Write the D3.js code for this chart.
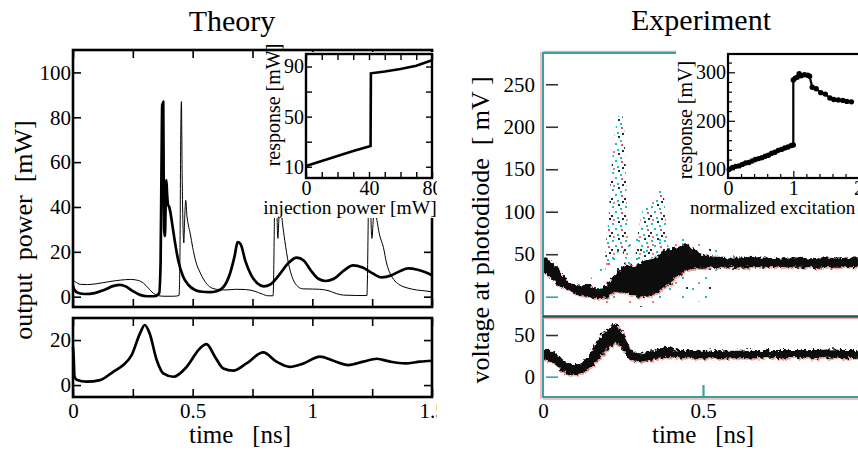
<!DOCTYPE html>
<html><head><meta charset="utf-8">
<script src="https://cdn.jsdelivr.net/npm/d3@7"></script>
<style>
body{margin:0;background:#fff}
svg{display:block}
text{font-family:"Liberation Serif","Times New Roman",serif;fill:#000}
</style>
</head><body>
<svg id="c" width="858" height="452"></svg>
<script>
// ---------------- DATA ----------------
// Theory, top panel: output power [mW] vs time [ns]
const thickCurve = [[0,5],[0.005,3.2],[0.02,1.8],[0.05,1.2],[0.09,1.6],[0.13,3],[0.17,4.8],[0.196,5.3],[0.22,4.6],[0.25,2.5],[0.28,0.8],[0.31,0.2],[0.34,0.2],[0.36,1.5],[0.366,15],[0.370,60],[0.373,86],[0.375,70],[0.377,87],[0.379,50],[0.381,30],[0.384,27],[0.387,40],[0.390,52],[0.393,46],[0.397,41],[0.402,40],[0.408,37],[0.415,32],[0.425,25],[0.44,16],[0.46,9],[0.48,5.5],[0.51,3],[0.54,2.2],[0.57,2],[0.60,2.4],[0.63,4.5],[0.655,10],[0.675,18],[0.688,24.3],[0.70,23.5],[0.72,16],[0.745,9.5],[0.77,6],[0.797,4.6],[0.825,5.5],[0.86,9.5],[0.9,15],[0.935,17.4],[0.965,16],[0.995,11.5],[1.025,8],[1.055,7],[1.09,8],[1.13,11.5],[1.17,14],[1.21,13],[1.25,10.5],[1.29,8.6],[1.33,9.5],[1.37,11.6],[1.40,12.6],[1.44,12],[1.47,11],[1.5,9.6]];
const thinCurve = [[0,7.3],[0.01,6.6],[0.03,5.5],[0.06,5.4],[0.1,5.8],[0.15,6.7],[0.2,7.4],[0.24,7.7],[0.27,7.3],[0.295,6],[0.315,3.8],[0.335,1.6],[0.355,0.5],[0.38,0.2],[0.42,0.2],[0.443,0.5],[0.447,20],[0.450,70],[0.453,87],[0.456,55],[0.460,30],[0.463,24],[0.467,36],[0.471,43],[0.476,36],[0.482,32],[0.49,28],[0.50,22],[0.515,15],[0.53,11],[0.55,7],[0.57,4.5],[0.6,3.3],[0.64,3],[0.68,3.3],[0.72,3.2],[0.76,2.4],[0.79,1.2],[0.815,0.4],[0.836,0.4],[0.841,30],[0.846,86],[0.851,45],[0.856,26],[0.862,38],[0.868,40],[0.875,33],[0.885,25],[0.9,15],[0.915,9],[0.935,5],[0.96,3.5],[1.0,3.4],[1.03,3.3],[1.07,2.6],[1.1,1.4],[1.13,0.7],[1.228,0.5],[1.233,30],[1.238,86],[1.243,45],[1.249,26],[1.256,36],[1.263,38],[1.27,34],[1.28,28],[1.297,22],[1.31,15],[1.325,10.4],[1.345,7],[1.366,5.2],[1.4,3.8],[1.436,3],[1.47,2.6],[1.5,2.2]];
// Theory, bottom panel
const lowerCurve = [[0,17],[0.003,12],[0.006,4],[0.015,2.4],[0.057,1.5],[0.113,2.2],[0.168,5.9],[0.21,8.9],[0.245,13.3],[0.28,23],[0.30,26.7],[0.32,23],[0.35,11],[0.377,5.2],[0.42,3.7],[0.475,8.1],[0.53,16.3],[0.558,18.2],[0.593,12.6],[0.628,7.4],[0.67,6.4],[0.725,9.6],[0.795,14.5],[0.85,10.4],[0.906,8.1],[0.962,9.6],[1.032,12.6],[1.088,10.8],[1.15,8.9],[1.213,10.4],[1.27,11.7],[1.325,10.4],[1.388,9.6],[1.45,10.4],[1.5,10.8]];
// Theory inset: response [mW] vs injection power [mW]
const theoryInset = [[0,10.5],[10,14.5],[20,18.5],[30,22.5],[41,26.6],[41.2,84.6],[50,86],[60,88],[70,90.6],[80,95]];
// Experiment inset: response [mV] vs normalized excitation
const expInset = [[0.02,100],[0.07,104],[0.12,106],[0.17,107],[0.22,110],[0.27,113],[0.32,114],[0.37,117],[0.42,120],[0.47,122],[0.52,124],[0.57,127],[0.62,129],[0.67,133],[0.72,135],[0.77,139],[0.82,141],[0.87,144],[0.92,146],[0.97,149],[1.0,150],[1.0,284],[1.03,288],[1.06,290],[1.09,297],[1.12,293],[1.17,295],[1.22,294],[1.25,292],[1.29,269],[1.35,266],[1.42,258],[1.49,255],[1.56,247],[1.62,244],[1.69,243],[1.76,242],[1.82,240],[1.89,239]];
// Experiment, top panel: dense trace band [t, low, high] (mV)
const expBandTop = [[0,28,46],[0.01,28,46],[0.022,23,42],[0.035,18,38],[0.045,14,35],[0.055,12,29],[0.065,10,24],[0.075,8,19],[0.085,6,16],[0.095,4,15],[0.105,2,14],[0.12,1,13],[0.135,0,14],[0.15,-1,12],[0.168,-2,10],[0.185,-1,11],[0.2,0,14],[0.21,2,19],[0.22,4,24],[0.23,5,28],[0.24,6,31],[0.25,5,36],[0.26,4,39],[0.27,3,37],[0.282,2,35],[0.293,1,38],[0.303,0,39],[0.314,1,42],[0.324,0,43],[0.34,2,45],[0.355,4,47],[0.37,8,51],[0.386,12,55],[0.40,17,56],[0.418,23,57],[0.433,28,60],[0.449,31,62],[0.46,32,59],[0.47,33,57],[0.485,34,52],[0.5,34,49],[0.52,35,48],[0.54,34,47],[0.564,34,47],[0.59,35,46],[0.62,34,46],[0.65,35,47],[0.68,34,46],[0.71,35,46],[0.74,34,45],[0.77,35,46],[0.8,34,46],[0.83,35,45],[0.86,34,46],[0.89,35,46],[0.92,34,45],[0.95,35,46],[1.0,35,46]];
// Experiment, top panel: sparse point clouds [t, low, high] (mV)
const expHalo = [[0.14,-4,18],[0.2,-8,42],[0.25,-10,62],[0.3,-12,72],[0.35,-10,76],[0.4,-2,74],[0.45,-4,70],[0.5,-6,64],[0.53,10,60],[0.57,28,55],[0.62,32,50]];
const expPlumeA = [[0.195,30,60],[0.205,35,95],[0.212,40,140],[0.222,45,185],[0.232,50,208],[0.243,55,216],[0.252,50,205],[0.258,45,160],[0.264,40,95],[0.272,35,60]];
const expPlumeB = [[0.29,40,60],[0.3,40,82],[0.31,42,100],[0.33,45,108],[0.345,45,116],[0.36,48,122],[0.37,50,130],[0.378,50,118],[0.385,48,90],[0.392,45,60]];
// Experiment, bottom panel band
const expBandBottom = [[0,20,34],[0.015,19,33],[0.032,16,30],[0.048,11,25],[0.064,6,20],[0.078,3,16],[0.09,2,14],[0.103,2,14],[0.116,4,16],[0.13,6,21],[0.147,10,28],[0.162,17,38],[0.178,24,48],[0.195,31,55],[0.21,36,60],[0.222,39,63],[0.232,40,62],[0.242,36,57],[0.252,31,50],[0.262,25,42],[0.272,20,34],[0.287,18,30],[0.303,18,28],[0.325,19,30],[0.345,20,32],[0.366,22,34],[0.386,24,36],[0.405,23,34],[0.428,22,32],[0.46,22,32],[0.5,22,31],[0.55,22,32],[0.6,22,31],[0.65,22,32],[0.7,23,32],[0.75,22,32],[0.8,23,32],[0.85,22,32],[0.9,23,33],[0.95,22,32],[1.0,23,32]];
// Tick values
const theoryTimeTicks = [0,0.25,0.5,0.75,1,1.25,1.5];
const theoryTimeLabels = [0,0.5,1,1.5];
const theoryPowerTicks = [0,20,40,60,80,100];
const theoryLowerTicks = [0,20];
const theoryInsetXTicks = [0,10,20,30,40,50,60,70,80];
const theoryInsetXLabels = [0,40,80];
const theoryInsetYTicks = [10,30,50,70,90];
const theoryInsetYLabels = [10,50,90];
const expVoltTicks = [0,50,100,150,200,250];
const expLowerTicks = [0,50];
const expTimeLabels = [0,0.5];
const expInsetYLabels = [100,200,300];
const expInsetXLabels = [0,1,2];

// ---------------- DRAW ----------------
const svg = d3.select('#c');
const defs = svg.append('defs');
const SERIF = '"Liberation Serif","Times New Roman",serif';
const TEAL = '#35a3a3', DTEAL = '#1b5656', PINK = '#f2a7a7';

defs.append('clipPath').attr('id','clipL').append('rect').attr('x',0).attr('y',0).attr('width',437).attr('height',452);
// dot patterns for scattered experimental samples
const pd = defs.append('pattern').attr('id','pDense').attr('width',13).attr('height',17).attr('patternUnits','userSpaceOnUse');
[[1,2,'#17c2c2'],[7,0,'#0f3838'],[4,7,'#17c2c2'],[10,8,'#d85a5a'],[0,11,'#1d2e2e'],[9,4,'#17c2c2'],[6,13,'#17c2c2'],[11,14,'#103030'],[2,15,'#e08080']].forEach(d=>pd.append('rect').attr('x',d[0]).attr('y',d[1]).attr('width',2).attr('height',2).attr('fill',d[2]));
const ps = defs.append('pattern').attr('id','pSparse').attr('width',23).attr('height',19).attr('patternUnits','userSpaceOnUse');
[[2,3,'#17c2c2'],[15,11,'#17c2c2'],[8,16,'#e08080'],[19,2,'#1d3a3a']].forEach(d=>ps.append('rect').attr('x',d[0]).attr('y',d[1]).attr('width',2).attr('height',2).attr('fill',d[2]));
const flt = defs.append('filter').attr('id','rough').attr('x','-5%').attr('y','-20%').attr('width','110%').attr('height','140%');
flt.append('feTurbulence').attr('type','fractalNoise').attr('baseFrequency',0.3).attr('numOctaves',3).attr('seed',4).attr('result','n');
flt.append('feDisplacementMap').attr('in','SourceGraphic').attr('in2','n').attr('scale',7).attr('xChannelSelector','R').attr('yChannelSelector','G');

function styleAxis(g, size, sw){
  g.select('.domain').remove();
  g.attr('font-family',SERIF).attr('font-size',size);
  g.selectAll('.tick line').attr('stroke-width',sw);
  g.selectAll('.tick text').attr('fill','#000');
}
function fmtIf(list){ return d => list.includes(d) ? d3.format('')(d) : ''; }

// ===== Theory =====
const L = svg.append('g').attr('clip-path','url(#clipL)');
const xT = d3.scaleLinear([0,1.5],[73,432]);
const yT1 = d3.scaleLinear([-4.6,110],[307,50]);
const yT2 = d3.scaleLinear([-5.3,29.8],[397,318]);

function theoryPanel(y, yTicks, top, bottom, labelsX){
  L.append('g').attr('transform',`translate(0,${bottom})`)
    .call(d3.axisBottom(xT).tickValues(theoryTimeTicks).tickSize(-8).tickPadding(6).tickFormat(labelsX?fmtIf(theoryTimeLabels):()=>''))
    .call(g=>styleAxis(g,21,1.6));
  L.append('g').attr('transform',`translate(0,${top})`)
    .call(d3.axisTop(xT).tickValues(theoryTimeTicks).tickSize(-8).tickFormat(()=>''))
    .call(g=>styleAxis(g,21,1.6));
  L.append('g').attr('transform',`translate(${xT(0)},0)`)
    .call(d3.axisLeft(y).tickValues(yTicks).tickSize(-8).tickPadding(2).tickFormat(d3.format('')))
    .call(g=>styleAxis(g,21,1.6));
  L.append('g').attr('transform',`translate(${xT(1.5)},0)`)
    .call(d3.axisRight(y).tickValues(yTicks).tickSize(-8).tickFormat(()=>''))
    .call(g=>styleAxis(g,21,1.6));
}
theoryPanel(yT1, theoryPowerTicks, 50, 307, false);
theoryPanel(yT2, theoryLowerTicks, 318, 397, true);

const lineT1 = d3.line().x(d=>xT(d[0])).y(d=>yT1(d[1])).curve(d3.curveMonotoneX);
const lineT2 = d3.line().x(d=>xT(d[0])).y(d=>yT2(d[1])).curve(d3.curveMonotoneX);
L.append('path').datum(thinCurve).attr('d',lineT1).attr('fill','none').attr('stroke','#000').attr('stroke-width',1).attr('stroke-linejoin','round');
L.append('path').datum(thickCurve).attr('d',lineT1).attr('fill','none').attr('stroke','#000').attr('stroke-width',2.7).attr('stroke-linejoin','round');
L.append('path').datum(lowerCurve).attr('d',lineT2).attr('fill','none').attr('stroke','#000').attr('stroke-width',2.7).attr('stroke-linejoin','round');
L.append('rect').attr('x',73).attr('y',50).attr('width',359).attr('height',257).attr('fill','none').attr('stroke','#000').attr('stroke-width',2.6);
L.append('rect').attr('x',73).attr('y',318).attr('width',359).attr('height',79).attr('fill','none').attr('stroke','#000').attr('stroke-width',2.6);

// theory inset
L.append('rect').attr('x',262).attr('y',52).attr('width',180).attr('height',166).attr('fill','#fff');
const xI = d3.scaleLinear([0,80],[306,432]);
const yI = d3.scaleLinear([1,100],[178,54]);
L.append('g').attr('transform','translate(0,178)')
  .call(d3.axisBottom(xI).tickValues(theoryInsetXTicks).tickSize(-6).tickPadding(3).tickFormat(fmtIf(theoryInsetXLabels)))
  .call(g=>styleAxis(g,20,1.4));
L.append('g').attr('transform','translate(0,54)')
  .call(d3.axisTop(xI).tickValues(theoryInsetXTicks).tickSize(-6).tickFormat(()=>''))
  .call(g=>styleAxis(g,20,1.4));
L.append('g').attr('transform','translate(306,0)')
  .call(d3.axisLeft(yI).tickValues(theoryInsetYTicks).tickSize(-6).tickPadding(2).tickFormat(fmtIf(theoryInsetYLabels)))
  .call(g=>styleAxis(g,20,1.4));
L.append('g').attr('transform','translate(432,0)')
  .call(d3.axisRight(yI).tickValues(theoryInsetYTicks).tickSize(-6).tickFormat(()=>''))
  .call(g=>styleAxis(g,20,1.4));
L.append('path').datum(theoryInset).attr('d',d3.line().x(d=>xI(d[0])).y(d=>yI(d[1]))).attr('fill','none').attr('stroke','#000').attr('stroke-width',2.6);
L.append('rect').attr('x',306).attr('y',54).attr('width',126).attr('height',124).attr('fill','none').attr('stroke','#000').attr('stroke-width',2.4);
L.append('text').attr('transform','translate(280,105) rotate(-90)').attr('text-anchor','middle').attr('font-size',20).text('response [mW]');
L.append('text').attr('x',350).attr('y',214).attr('text-anchor','middle').attr('font-size',19.5).text('injection power [mW]');

// theory labels
L.append('text').attr('x',232).attr('y',31).attr('text-anchor','middle').attr('font-size',30).text('Theory');
L.append('text').attr('transform','translate(32,230) rotate(-90)').attr('text-anchor','middle').attr('font-size',26).style('white-space','pre').text('output  power  [mW]');
L.append('text').attr('x',240).attr('y',443).attr('text-anchor','middle').attr('font-size',25).style('white-space','pre').text('time   [ns]');

// ===== Experiment =====
const R = svg.append('g');
const xE = d3.scaleLinear([0,1],[543,863]);
const yE1 = d3.scaleLinear([-22.7,286.8],[316,53]);
const yE2 = d3.scaleLinear([-24.4,72.8],[397,316]);

const areaE1 = d3.area().x(d=>xE(d[0])).y0(d=>yE1(d[1])).y1(d=>yE1(d[2])).curve(d3.curveMonotoneX);
const areaE2 = d3.area().x(d=>xE(d[0])).y0(d=>yE2(d[1])).y1(d=>yE2(d[2])).curve(d3.curveMonotoneX);
R.append('path').datum(expHalo).attr('d',areaE1).attr('fill','url(#pSparse)');
R.append('path').datum(expPlumeA).attr('d',areaE1).attr('fill','url(#pDense)');
R.append('path').datum(expPlumeB).attr('d',areaE1).attr('fill','url(#pDense)');
[[expBandTop,areaE1],[expBandBottom,areaE2]].forEach(([data,ar])=>{
  R.append('path').datum(data).attr('d',ar).attr('fill',PINK).attr('transform','translate(1.2,1.5)').attr('filter','url(#rough)');
  R.append('path').datum(data).attr('d',ar).attr('fill','#0b0f0f').attr('filter','url(#rough)');
});

// frame
R.append('line').attr('x1',541).attr('x2',541).attr('y1',52).attr('y2',399).attr('stroke',PINK).attr('stroke-width',1.5);
R.append('line').attr('x1',543).attr('x2',543).attr('y1',53).attr('y2',397).attr('stroke',TEAL).attr('stroke-width',2);
R.append('line').attr('x1',543).attr('x2',700).attr('y1',51.5).attr('y2',51.5).attr('stroke',PINK).attr('stroke-width',1.5);
R.append('line').attr('x1',542).attr('x2',700).attr('y1',53).attr('y2',53).attr('stroke',TEAL).attr('stroke-width',2);
R.append('line').attr('x1',543).attr('x2',860).attr('y1',318.5).attr('y2',318.5).attr('stroke',PINK).attr('stroke-width',1.2);
R.append('line').attr('x1',543).attr('x2',860).attr('y1',316.5).attr('y2',316.5).attr('stroke',DTEAL).attr('stroke-width',2.4);
R.append('line').attr('x1',543).attr('x2',860).attr('y1',399).attr('y2',399).attr('stroke',PINK).attr('stroke-width',1.5);
R.append('line').attr('x1',542).attr('x2',860).attr('y1',397).attr('y2',397).attr('stroke',TEAL).attr('stroke-width',2);

// y axes (labels outside, ticks inside)
function expY(y, ticks){
  R.append('g').attr('transform','translate(543,0)')
    .call(d3.axisLeft(y).tickValues(ticks).tickSize(0).tickPadding(8).tickFormat(d3.format('')))
    .call(g=>styleAxis(g,21,1));
  R.append('g').attr('transform','translate(546,0)')
    .call(d3.axisRight(y).tickValues(ticks).tickSize(12).tickFormat(()=>''))
    .call(g=>{styleAxis(g,21,1.6); g.selectAll('.tick line').attr('stroke',d=>d===0?TEAL:'#333');});
}
expY(yE1, expVoltTicks);
expY(yE2, expLowerTicks);
R.append('g').attr('transform','translate(0,397)')
  .call(d3.axisBottom(xE).tickValues(expTimeLabels).tickSize(-12).tickPadding(6).tickFormat(d=>d3.format('')(d)))
  .call(g=>{styleAxis(g,21,2.2); g.selectAll('.tick line').attr('stroke',TEAL).attr('opacity',d=>d===0?0:1);});

// experiment inset
R.append('rect').attr('x',676).attr('y',49).attr('width',190).attr('height',169).attr('fill','#fff');
const xJ = d3.scaleLinear([0,2],[728,858.6]);
const yJ = d3.scaleLinear([82,337.7],[178,54]);
R.append('g').attr('transform','translate(0,178)')
  .call(d3.axisBottom(xJ).tickValues(d3.range(0,2.01,0.2).map(v=>+v.toFixed(1))).tickSize(-4).tickPadding(3).tickFormat(fmtIf(expInsetXLabels)))
  .call(g=>{styleAxis(g,20,1.2); g.selectAll('.tick line').attr('y2',d=>expInsetXLabels.includes(d)?-7:-4);});
R.append('g').attr('transform','translate(728,0)')
  .call(d3.axisLeft(yJ).tickValues(d3.range(100,331,20)).tickSize(-4).tickPadding(2).tickFormat(fmtIf(expInsetYLabels)))
  .call(g=>{styleAxis(g,20,1.2); g.selectAll('.tick line').attr('x2',d=>expInsetYLabels.includes(d)?7:4);});
const lineJ = d3.line().x(d=>xJ(d[0])).y(d=>yJ(d[1]));
R.append('path').datum(expInset).attr('d',lineJ).attr('fill','none').attr('stroke','#000').attr('stroke-width',2.2);
R.selectAll('circle.ei').data(expInset).join('circle').attr('class','ei').attr('cx',d=>xJ(d[0])).attr('cy',d=>yJ(d[1])).attr('r',2.7).attr('fill','#000');
R.append('rect').attr('x',728).attr('y',54).attr('width',140).attr('height',124).attr('fill','none').attr('stroke','#000').attr('stroke-width',2.2);
R.append('text').attr('transform','translate(692,120) rotate(-90)').attr('text-anchor','middle').attr('font-size',20).text('response [mV]');
R.append('text').attr('x',690).attr('y',214).attr('font-size',19).text('normalized excitation');

// experiment labels
R.append('text').attr('x',701).attr('y',30).attr('text-anchor','middle').attr('font-size',30).text('Experiment');
R.append('text').attr('transform','translate(489,230) rotate(-90)').attr('text-anchor','middle').attr('font-size',26).style('white-space','pre').text('voltage at photodiode  [ mV ]');
R.append('text').attr('x',703).attr('y',443).attr('text-anchor','middle').attr('font-size',25).style('white-space','pre').text('time   [ns]');
</script>
</body></html>
